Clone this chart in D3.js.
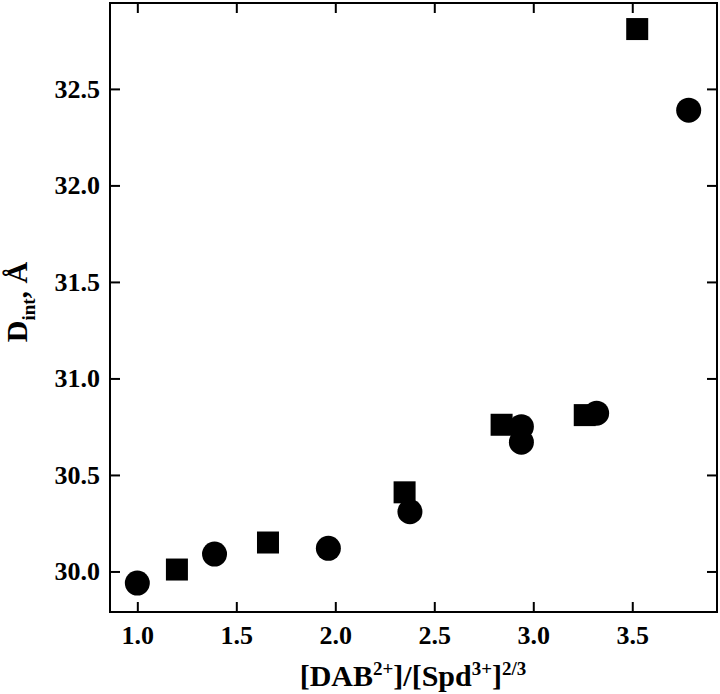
<!DOCTYPE html>
<html>
<head>
<meta charset="utf-8">
<script src="https://cdn.jsdelivr.net/npm/d3@7"></script>
<style>
  html, body { margin: 0; padding: 0; background: #fff; }
  svg { display: block; }
  text { font-family: "Liberation Serif", "Times New Roman", serif; font-weight: bold; fill: #000; }
</style>
</head>
<body>
<svg id="chart" width="720" height="694"></svg>
<script>
// Series: squares
const squareX = [1.20, 1.66, 2.35, 2.84, 3.26, 3.525];
const squareY = [30.01, 30.15, 30.41, 30.76, 30.81, 32.81];
// Series: circles
const circleX = [1.00, 1.39, 1.965, 2.377, 2.94, 2.94, 3.32, 3.785];
const circleY = [29.94, 30.09, 30.12, 30.31, 30.75, 30.67, 30.82, 32.39];
// Ticks
const xTicks = [1.0, 1.5, 2.0, 2.5, 3.0, 3.5];
const yTicks = [30.0, 30.5, 31.0, 31.5, 32.0, 32.5];
const xDomain = [0.862, 3.928];
const yDomain = [29.79, 32.945];

const svg = d3.select("#chart");
const L = 110, R = 717, T = 3, B = 612;

const x = d3.scaleLinear().domain(xDomain).range([L, R]);
const y = d3.scaleLinear().domain(yDomain).range([B, T]);
const fmt = d3.format(".1f");
const serif = '"Liberation Serif", "Times New Roman", serif';

function styleAxis(g) {
  g.attr("font-family", serif).attr("font-weight", "bold");
  g.select(".domain").remove();
  g.selectAll(".tick line").attr("stroke", "#000").attr("stroke-width", 2);
  g.selectAll(".tick text").attr("font-family", serif).style("font-family", serif)
    .style("font-weight", "bold").style("font-size", "26px");
}

svg.append("g").attr("transform", `translate(0,${B})`)
  .call(d3.axisBottom(x).tickValues(xTicks).tickFormat(fmt).tickSizeInner(-10).tickSizeOuter(0).tickPadding(14))
  .call(styleAxis);
svg.append("g").attr("transform", `translate(0,${T})`)
  .call(d3.axisTop(x).tickValues(xTicks).tickFormat("").tickSizeInner(-10).tickSizeOuter(0))
  .call(styleAxis);
svg.append("g").attr("transform", `translate(${L},0)`)
  .call(d3.axisLeft(y).tickValues(yTicks).tickFormat(fmt).tickSizeInner(-10).tickSizeOuter(0).tickPadding(10))
  .call(styleAxis);
svg.append("g").attr("transform", `translate(${R},0)`)
  .call(d3.axisRight(y).tickValues(yTicks).tickFormat("").tickSizeInner(-10).tickSizeOuter(0))
  .call(styleAxis);

svg.append("rect").attr("x", L).attr("y", T).attr("width", R - L).attr("height", B - T)
  .attr("fill", "none").attr("stroke", "#000").attr("stroke-width", 2);

const sq = 22;
svg.append("g").selectAll("rect").data(squareX.map((d, i) => [d, squareY[i]])).join("rect")
  .attr("x", d => x(d[0]) - sq / 2).attr("y", d => y(d[1]) - sq / 2)
  .attr("width", sq).attr("height", sq).attr("fill", "#000");

svg.append("g").selectAll("circle").data(circleX.map((d, i) => [d, circleY[i]])).join("circle")
  .attr("cx", d => x(d[0])).attr("cy", d => y(d[1])).attr("r", 12.5).attr("fill", "#000");

// X title
const xt = svg.append("text").attr("x", 413).attr("y", 686).attr("text-anchor", "middle").style("font-size", "30px");
xt.append("tspan").text("[DAB");
xt.append("tspan").text("2+").attr("dy", -11).style("font-size", "19px");
xt.append("tspan").text("]/[Spd").attr("dy", 11);
xt.append("tspan").text("3+").attr("dy", -11).style("font-size", "19px");
xt.append("tspan").text("]").attr("dy", 11);
xt.append("tspan").text("2/3").attr("dy", -11).style("font-size", "19px");

// Y title
const yt = svg.append("text").attr("transform", "translate(27,302) rotate(-90)").attr("text-anchor", "middle").style("font-size", "30px");
yt.append("tspan").text("D");
yt.append("tspan").text("int").attr("dy", 8).style("font-size", "19px");
yt.append("tspan").text(", Å").attr("dy", -8);
</script>
</body>
</html>
